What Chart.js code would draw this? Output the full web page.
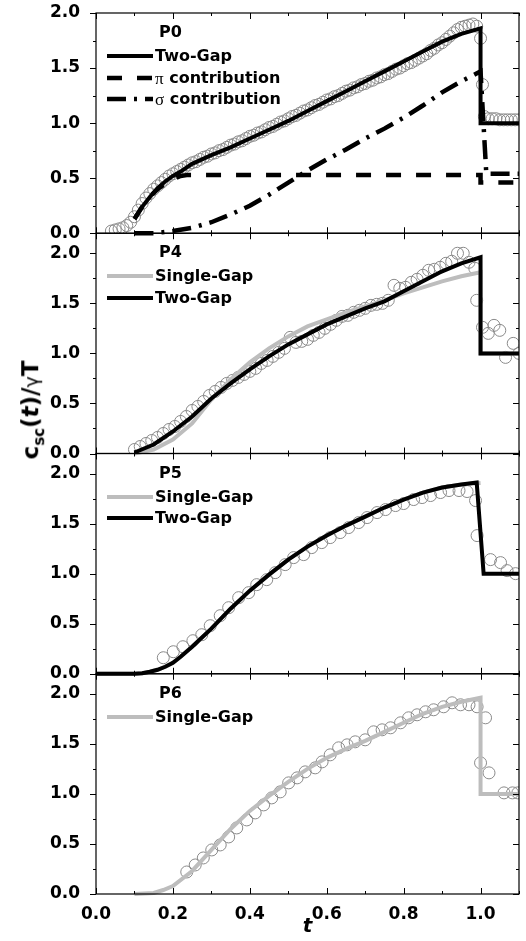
<!DOCTYPE html>
<html>
<head>
<meta charset="utf-8">
<title>Specific heat, P0 / P4 / P5 / P6</title>
<script src="https://cdn.jsdelivr.net/npm/chart.js@4.4.1/dist/chart.umd.min.js"></script>
<style>
  html, body { margin: 0; padding: 0; background: #fff; }
  #wrap { position: relative; width: 526px; height: 941px; }
  #yTitle {
    position: absolute;
    left: 33px;
    top: 410px;
    transform: translate(-50%, -50%) rotate(-90deg);
    font-family: "DejaVu Sans", sans-serif;
    font-weight: bold;
    font-size: 23px;
    line-height: 1;
    white-space: nowrap;
    color: #000;
  }
  #yTitle sub { font-size: 15px; }
  #yTitle .gam { font-weight: normal; font-size: 19px; }
</style>
</head>
<body>
<div id="wrap">
  <canvas id="chart" width="526" height="941"></canvas>
  <div id="yTitle">c<sub>sc</sub>(<i>t</i>)/<span class="gam">γ</span>T</div>
</div>

<script>
// --- DATA ---
const panelNames = ["P0", "P4", "P5", "P6"];
const panelAxes = ["yP0", "yP4", "yP5", "yP6"];
const xTicks = [0.0, 0.2, 0.4, 0.6, 0.8, 1.0];
const yTicks = [0.0, 0.5, 1.0, 1.5, 2.0];

// P0
const p0TwoGapT = [0.10, 0.12, 0.14, 0.16, 0.18, 0.20, 0.22, 0.25, 0.30, 0.35, 0.40, 0.45, 0.50, 0.55, 0.60, 0.65, 0.70, 0.75, 0.80, 0.85, 0.90, 0.95, 1.00, 1.00, 1.10];
const p0TwoGapC = [0.13, 0.24, 0.33, 0.41, 0.47, 0.52, 0.56, 0.63, 0.71, 0.78, 0.86, 0.94, 1.02, 1.11, 1.20, 1.29, 1.38, 1.47, 1.56, 1.65, 1.74, 1.81, 1.86, 1.00, 1.00];
const p0PiT = [0.10, 0.12, 0.14, 0.16, 0.18, 0.20, 0.22, 0.24, 0.40, 0.60, 0.80, 1.00, 1.00, 1.10];
const p0PiC = [0.13, 0.24, 0.33, 0.40, 0.45, 0.49, 0.52, 0.53, 0.53, 0.53, 0.53, 0.53, 0.46, 0.46];
const p0SigmaT = [0.10, 0.15, 0.20, 0.25, 0.30, 0.35, 0.40, 0.45, 0.50, 0.55, 0.60, 0.65, 0.70, 0.75, 0.80, 0.85, 0.90, 0.95, 1.00, 1.015, 1.10];
const p0SigmaC = [0.00, 0.00, 0.02, 0.05, 0.10, 0.17, 0.25, 0.35, 0.46, 0.57, 0.67, 0.76, 0.86, 0.95, 1.05, 1.16, 1.28, 1.38, 1.47, 0.54, 0.54];
const p0DataT = [
  0.04, 0.05, 0.06, 0.07, 0.08, 0.09, 0.10, 0.11, 0.12, 0.13, 0.14, 0.15, 0.16, 0.17, 0.18, 0.19,
  0.20, 0.21, 0.22, 0.23, 0.24, 0.25, 0.26, 0.27, 0.28, 0.29, 0.30, 0.31, 0.32, 0.33, 0.34, 0.35,
  0.36, 0.37, 0.38, 0.39, 0.40, 0.41, 0.42, 0.43, 0.44, 0.45, 0.46, 0.47, 0.48, 0.49, 0.50, 0.51,
  0.52, 0.53, 0.54, 0.55, 0.56, 0.57, 0.58, 0.59, 0.60, 0.61, 0.62, 0.63, 0.64, 0.65, 0.66, 0.67,
  0.68, 0.69, 0.70, 0.71, 0.72, 0.73, 0.74, 0.75, 0.76, 0.77, 0.78, 0.79, 0.80, 0.81, 0.82, 0.83,
  0.84, 0.85, 0.86, 0.87, 0.88, 0.89, 0.90, 0.91, 0.92, 0.93, 0.94, 0.95, 0.96, 0.97, 0.98, 0.99,
  1.00, 1.005, 1.01, 1.02, 1.03, 1.04, 1.05, 1.06, 1.07, 1.08, 1.09, 1.10
];
const p0DataC = [
  0.02, 0.03, 0.04, 0.05, 0.07, 0.10, 0.15, 0.21, 0.27, 0.32, 0.36, 0.40, 0.43, 0.46, 0.49, 0.52,
  0.54, 0.56, 0.58, 0.60, 0.62, 0.64, 0.65, 0.67, 0.69, 0.70, 0.72, 0.73, 0.75, 0.76, 0.78, 0.80,
  0.81, 0.83, 0.84, 0.86, 0.88, 0.89, 0.91, 0.92, 0.94, 0.96, 0.97, 0.99, 1.01, 1.02, 1.04, 1.06,
  1.07, 1.09, 1.11, 1.12, 1.14, 1.16, 1.17, 1.19, 1.21, 1.22, 1.24, 1.25, 1.27, 1.29, 1.30, 1.32,
  1.33, 1.35, 1.36, 1.38, 1.39, 1.41, 1.42, 1.44, 1.45, 1.47, 1.49, 1.50, 1.52, 1.54, 1.55, 1.57,
  1.59, 1.61, 1.63, 1.66, 1.68, 1.71, 1.73, 1.76, 1.79, 1.82, 1.85, 1.87, 1.88, 1.89, 1.90, 1.88,
  1.77, 1.35, 1.06, 1.04, 1.04, 1.04, 1.03, 1.03, 1.03, 1.03, 1.03, 1.03
];

// P4
const p4CurveT = [0.10, 0.15, 0.20, 0.25, 0.30, 0.35, 0.40, 0.45, 0.50, 0.55, 0.60, 0.65, 0.70, 0.75, 0.80, 0.85, 0.90, 0.95, 1.00, 1.00, 1.10];
const p4SingleC = [0.00, 0.04, 0.14, 0.30, 0.54, 0.74, 0.91, 1.05, 1.17, 1.27, 1.34, 1.41, 1.47, 1.53, 1.60, 1.66, 1.72, 1.77, 1.81, 1.00, 1.00];
const p4TwoGapC = [0.01, 0.09, 0.22, 0.37, 0.55, 0.70, 0.84, 0.97, 1.09, 1.19, 1.29, 1.37, 1.45, 1.52, 1.62, 1.72, 1.82, 1.90, 1.96, 1.00, 1.00];
const p4DataT = [
  0.100, 0.115, 0.130, 0.145, 0.160, 0.175, 0.190, 0.205, 0.220, 0.235, 0.250, 0.265, 0.280, 0.295,
  0.310, 0.325, 0.340, 0.355, 0.370, 0.385, 0.400, 0.415, 0.430, 0.445, 0.460, 0.475, 0.490, 0.505,
  0.520, 0.535, 0.550, 0.565, 0.580, 0.595, 0.610, 0.625, 0.640, 0.655, 0.670, 0.685, 0.700, 0.715,
  0.730, 0.745, 0.760, 0.775, 0.790, 0.805, 0.820, 0.835, 0.850, 0.865, 0.880, 0.895, 0.910, 0.925,
  0.940, 0.955, 0.970, 0.985, 0.990, 1.005, 1.020, 1.035, 1.050, 1.065, 1.085, 1.100
];
const p4DataC = [
  0.04, 0.07, 0.10, 0.13, 0.16, 0.20, 0.24, 0.27, 0.32, 0.37, 0.43, 0.47, 0.52, 0.58,
  0.62, 0.66, 0.70, 0.73, 0.76, 0.79, 0.82, 0.85, 0.90, 0.93, 0.97, 1.01, 1.05, 1.16,
  1.11, 1.12, 1.14, 1.18, 1.21, 1.25, 1.29, 1.33, 1.37, 1.38, 1.41, 1.43, 1.45, 1.48,
  1.49, 1.50, 1.53, 1.68, 1.65, 1.66, 1.71, 1.74, 1.78, 1.83, 1.84, 1.86, 1.90, 1.92,
  2.00, 2.00, 1.91, 1.85, 1.53, 1.26, 1.20, 1.28, 1.23, 0.96, 1.10, 1.00
];

// P5
const p5TwoGapT = [0.00, 0.10, 0.12, 0.14, 0.16, 0.18, 0.20, 0.22, 0.25, 0.30, 0.35, 0.40, 0.45, 0.50, 0.55, 0.60, 0.65, 0.70, 0.75, 0.80, 0.85, 0.90, 0.95, 0.99, 1.008, 1.10];
const p5TwoGapC = [0.00, 0.00, 0.005, 0.02, 0.04, 0.07, 0.11, 0.17, 0.27, 0.45, 0.65, 0.83, 0.99, 1.14, 1.27, 1.38, 1.48, 1.57, 1.66, 1.74, 1.81, 1.86, 1.89, 1.91, 1.00, 1.00];
const p5SingleT = [0.00, 0.10, 0.12, 0.14, 0.16, 0.18, 0.20, 0.22, 0.25, 0.30, 0.35, 0.40, 0.45, 0.50, 0.55, 0.60, 0.65, 0.70, 0.75, 0.80, 0.85, 0.90, 0.95, 1.00];
const p5SingleC = [0.00, 0.00, 0.005, 0.02, 0.04, 0.07, 0.11, 0.17, 0.27, 0.45, 0.65, 0.83, 0.99, 1.14, 1.27, 1.38, 1.48, 1.57, 1.66, 1.74, 1.81, 1.86, 1.89, 1.905];
const p5DataT = [
  0.175, 0.201, 0.226, 0.252, 0.275, 0.297, 0.323, 0.345, 0.371, 0.397, 0.418, 0.444, 0.466,
  0.492, 0.514, 0.540, 0.561, 0.587, 0.609, 0.635, 0.657, 0.683, 0.705, 0.731, 0.753, 0.779,
  0.800, 0.826, 0.848, 0.870, 0.896, 0.918, 0.944, 0.965, 0.987, 0.991, 1.026, 1.052, 1.069, 1.091
];
const p5DataC = [
  0.16, 0.22, 0.27, 0.33, 0.39, 0.48, 0.58, 0.66, 0.76, 0.81, 0.89, 0.94, 1.01,
  1.09, 1.16, 1.19, 1.26, 1.31, 1.36, 1.41, 1.46, 1.51, 1.56, 1.61, 1.64, 1.68,
  1.70, 1.74, 1.76, 1.78, 1.81, 1.83, 1.83, 1.82, 1.73, 1.38, 1.14, 1.11, 1.03, 1.00
];

// P6
const p6SingleT = [0.10, 0.15, 0.175, 0.20, 0.25, 0.30, 0.35, 0.40, 0.45, 0.50, 0.55, 0.60, 0.65, 0.70, 0.75, 0.80, 0.85, 0.90, 0.95, 1.00, 1.00, 1.10];
const p6SingleC = [0.00, 0.01, 0.04, 0.08, 0.23, 0.44, 0.65, 0.83, 0.98, 1.12, 1.25, 1.36, 1.45, 1.53, 1.62, 1.71, 1.80, 1.87, 1.92, 1.96, 1.00, 1.00];
const p6DataT = [
  0.236, 0.258, 0.279, 0.301, 0.323, 0.345, 0.366, 0.392, 0.414, 0.436, 0.457, 0.479, 0.501,
  0.523, 0.544, 0.570, 0.588, 0.609, 0.631, 0.653, 0.674, 0.700, 0.722, 0.744, 0.766, 0.792,
  0.813, 0.835, 0.857, 0.878, 0.904, 0.926, 0.948, 0.970, 0.991, 1.013, 1.000, 1.022, 1.061,
  1.083, 1.097
];
const p6DataC = [
  0.22, 0.29, 0.36, 0.44, 0.49, 0.57, 0.66, 0.74, 0.81, 0.89, 0.96, 1.02, 1.11,
  1.16, 1.22, 1.26, 1.32, 1.39, 1.46, 1.49, 1.52, 1.54, 1.62, 1.64, 1.66, 1.71,
  1.76, 1.79, 1.82, 1.84, 1.87, 1.91, 1.89, 1.89, 1.87, 1.76, 1.31, 1.21, 1.01,
  1.01, 1.01
];

// --- STYLE ---
const FONT = "DejaVu Sans";
const GREEK_FONT = "Liberation Serif";
const BLACK = "#000000";
const GREY = "#bdbdbd";
const CIRCLE = "#8a8a8a";

function toPoints(ts, cs) {
  return ts.map((t, i) => ({ x: t, y: cs[i] }));
}

function curve(label, axis, ts, cs, color, dash, order) {
  return {
    label: label,
    yAxisID: axis,
    data: toPoints(ts, cs),
    showLine: true,
    borderColor: color,
    borderWidth: dash ? 4.5 : 4,
    borderDash: dash || [],
    borderCapStyle: "butt",
    pointRadius: 0,
    tension: 0,
    fill: false,
    order: order,
    clip: { left: 0, top: 0, right: 0, bottom: 3 },
  };
}

function circles(axis, ts, cs) {
  return {
    label: "",
    yAxisID: axis,
    data: toPoints(ts, cs),
    showLine: false,
    pointStyle: "circle",
    pointRadius: 6,
    pointBorderWidth: 1,
    pointBorderColor: CIRCLE,
    pointBackgroundColor: "rgba(0,0,0,0)",
    order: 10,
    clip: 0,
  };
}

// y axis for one of the stacked panels
function panelAxis(max) {
  return {
    type: "linear",
    position: "left",
    stack: "panels",
    stackWeight: 1,
    min: 0,
    max: max,
    grid: { display: false },
    border: { display: false },
    ticks: {
      color: BLACK,
      padding: 8,
      font: { family: FONT, size: 17, weight: "bold" },
      callback: (v) => v.toFixed(1),
    },
    afterBuildTicks: (scale) => {
      scale.ticks = yTicks.map((v) => ({ value: v }));
    },
    afterFit: (scale) => {
      scale.width = 96;
      // layout padding alone decides where the frame starts
      scale.paddingTop = 0;
      scale.paddingBottom = 0;
    },
  };
}

/**
 * Frames every panel and draws the tick marks (majors and minors).
 * y ticks point left, x ticks point into each panel.
 */
const panelFrame = {
  id: "panelFrame",
  afterDatasetsDraw(chart) {
    const { ctx, chartArea, scales } = chart;
    const xs = scales.x;
    const left = chartArea.left;
    const right = chartArea.right;

    ctx.save();
    ctx.strokeStyle = BLACK;

    panelAxes.forEach((id) => {
      const ys = scales[id];

      ctx.lineWidth = 1.2;
      ctx.strokeRect(left, ys.top, right - left, ys.bottom - ys.top);

      ctx.lineWidth = 1;
      ctx.beginPath();
      for (let i = 0; i * 0.25 <= ys.max + 1e-6; i++) {
        const v = i * 0.25;
        if (v > 2.0 + 1e-6) break;
        const py = Math.round(ys.getPixelForValue(v)) + 0.5;
        const len = i % 2 === 0 ? 6 : 3;
        ctx.moveTo(left - len, py);
        ctx.lineTo(left, py);
        ctx.moveTo(right - len, py);
        ctx.lineTo(right, py);
      }
      for (let i = 0; i <= 11; i++) {
        const px = Math.round(xs.getPixelForValue(i / 10)) + 0.5;
        const len = i % 2 === 0 ? 6 : 3;
        ctx.moveTo(px, ys.top);
        ctx.lineTo(px, ys.top + len);
        ctx.moveTo(px, ys.bottom - len);
        ctx.lineTo(px, ys.bottom);
      }
      ctx.stroke();
    });

    ctx.restore();
  },
};

/**
 * Legend block in the upper-left corner of each panel.
 * A leading Greek letter is set in a lighter serif face, as in the figure.
 */
const panelLegend = {
  id: "panelLegend",
  afterDraw(chart) {
    const { ctx, scales } = chart;
    const textFont = `bold 16px "${FONT}"`;
    const greekFont = `17px "${GREEK_FONT}"`;

    ctx.save();
    ctx.fillStyle = BLACK;
    ctx.textBaseline = "middle";

    panelAxes.forEach((id, p) => {
      const top = scales[id].top;
      ctx.font = textFont;
      ctx.fillText(panelNames[p], 159, top + 20);

      let row = 0;
      chart.data.datasets.forEach((ds) => {
        if (ds.yAxisID !== id || !ds.showLine) return;
        const y = Math.round(top + 43 + row * 21.5);

        ctx.strokeStyle = ds.borderColor;
        ctx.lineWidth = ds.borderWidth;
        ctx.lineCap = "butt";
        ctx.setLineDash(ds.borderDash);
        ctx.beginPath();
        ctx.moveTo(107, y);
        ctx.lineTo(153, y);
        ctx.stroke();
        ctx.setLineDash([]);

        let x = 155;
        let text = ds.label;
        if (/^[\u0370-\u03ff]/.test(text)) {
          ctx.font = greekFont;
          ctx.fillText(text[0], x, y + 2);
          x += ctx.measureText(text[0]).width;
          text = text.slice(1);
        }
        ctx.font = textFont;
        ctx.fillText(text, x, y + 1);
        row++;
      });
    });

    ctx.restore();
  },
};

function initChart() {
  const ctx = document.getElementById("chart").getContext("2d");

  const datasets = [
    // P0
    curve("Two-Gap", "yP0", p0TwoGapT, p0TwoGapC, BLACK, null, 1),
    curve("π contribution", "yP0", p0PiT, p0PiC, BLACK, [15, 15], 2),
    curve("σ contribution", "yP0", p0SigmaT, p0SigmaC, BLACK, [19, 8, 3, 8], 3),
    circles("yP0", p0DataT, p0DataC),
    // P4
    curve("Single-Gap", "yP4", p4CurveT, p4SingleC, GREY, null, 5),
    curve("Two-Gap", "yP4", p4CurveT, p4TwoGapC, BLACK, null, 1),
    circles("yP4", p4DataT, p4DataC),
    // P5
    curve("Single-Gap", "yP5", p5SingleT, p5SingleC, GREY, null, 5),
    curve("Two-Gap", "yP5", p5TwoGapT, p5TwoGapC, BLACK, null, 1),
    circles("yP5", p5DataT, p5DataC),
    // P6
    curve("Single-Gap", "yP6", p6SingleT, p6SingleC, GREY, null, 5),
    circles("yP6", p6DataT, p6DataC),
  ];

  new Chart(ctx, {
    type: "scatter",
    data: { datasets: datasets },
    options: {
      responsive: false,
      animation: false,
      devicePixelRatio: 1,
      events: [],
      layout: { padding: { top: 13, right: 7, bottom: 0, left: 0 } },
      plugins: {
        legend: { display: false },
        tooltip: { enabled: false },
      },
      scales: {
        x: {
          type: "linear",
          position: "bottom",
          min: 0,
          max: 1.1,
          grid: { display: false },
          border: { display: false },
          ticks: {
            color: BLACK,
            padding: 2,
            maxRotation: 0,
            font: { family: FONT, size: 17, weight: "bold" },
            callback: (v) => v.toFixed(1),
          },
          afterBuildTicks: (scale) => {
            scale.ticks = xTicks.map((v) => ({ value: v }));
          },
          title: {
            display: true,
            text: "t",
            color: BLACK,
            padding: { top: 0, bottom: 2 },
            font: { family: FONT, size: 20, weight: "bold", style: "italic" },
          },
          afterFit: (scale) => {
            scale.height = 47;
          },
        },
        // listed bottom panel first: the last stacked axis ends up on top
        yP6: panelAxis(2.2),
        yP5: panelAxis(2.2),
        yP4: panelAxis(2.2),
        yP0: panelAxis(2.0),
      },
    },
    plugins: [panelFrame, panelLegend],
  });
}

document.addEventListener("DOMContentLoaded", initChart);
</script>
</body>
</html>
